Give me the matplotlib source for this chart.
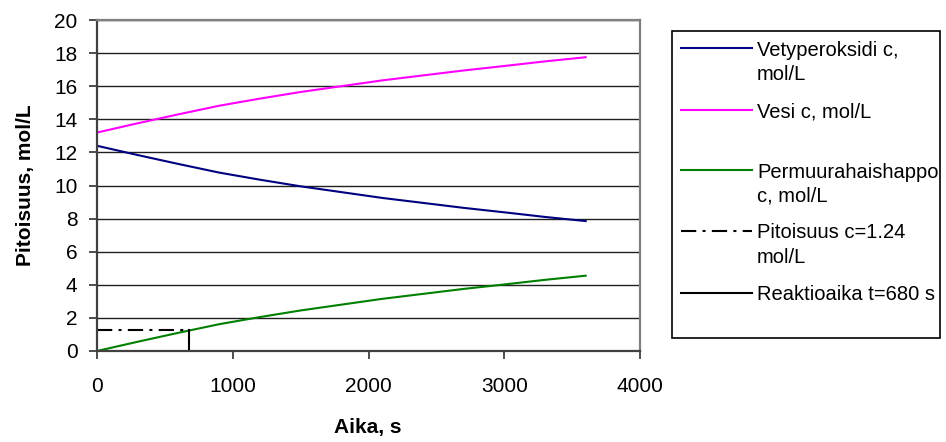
import matplotlib
matplotlib.use('Agg')
from matplotlib import pyplot as plt
from matplotlib.lines import Line2D
from matplotlib.patches import Rectangle

plt.rcParams['font.family'] = ['Liberation Sans', 'DejaVu Sans']
plt.rcParams['lines.scale_dashes'] = False

# values
time_s = [0, 300, 600, 900, 1200, 1500, 1800, 2100, 2400, 2700, 3000, 3300, 3600]
vetyperoksidi = [12.4, 11.84, 11.30, 10.78, 10.35, 9.95, 9.60, 9.25, 8.95, 8.65, 8.38, 8.10, 7.85]
vesi = [13.2, 13.76, 14.30, 14.82, 15.25, 15.65, 16.0, 16.35, 16.65, 16.95, 17.22, 17.5, 17.75]
permuurahaishappo = [0, 0.56, 1.10, 1.62, 2.05, 2.45, 2.80, 3.15, 3.45, 3.75, 4.02, 4.30, 4.55]
pitoisuus_c = 1.24
reaktioaika_t = 680

DASHDOT = (11, 4.5, 2.2, 4.5)
W, H = 946, 442

fig = plt.figure(figsize=(9.46, 4.42), dpi=100)
ax = fig.add_axes([97 / W, 1 - 351 / H, (640 - 97) / W, (351 - 20) / H])

ax.plot(time_s, vetyperoksidi, color='#000080', lw=1.5)
ax.plot(time_s, vesi, color='#FF00FF', lw=1.5)
ax.plot(time_s, permuurahaishappo, color='#008000', lw=1.5)
ax.plot([0, reaktioaika_t], [pitoisuus_c, pitoisuus_c], color='black', lw=1.5,
        dashes=DASHDOT)
ax.plot([reaktioaika_t, reaktioaika_t], [0, pitoisuus_c], color='black', lw=1.5)

ax.set_xlim(0, 4000)
ax.set_ylim(0, 20)
ax.set_xticks(range(0, 4001, 1000))
ax.set_yticks(range(0, 21, 2))
ax.grid(axis='y', color='#202020', lw=1)
ax.set_axisbelow(True)
ax.tick_params(labelsize=15, direction='out', length=6, width=1.2, colors='#303030',
               labelcolor='black')
ax.tick_params(axis='x', pad=13)
ax.tick_params(axis='y', pad=8)

for side in ['top', 'right']:
    ax.spines[side].set_color('#808080')
    ax.spines[side].set_linewidth(1.6)
for side in ['left', 'bottom']:
    ax.spines[side].set_color('#404040')
    ax.spines[side].set_linewidth(1.6)

fig.text(368 / W, 1 - 427 / H, 'Aika, s', fontsize=15, fontweight='bold',
         ha='center', va='center')
fig.text(26 / W, 1 - 185 / H, 'Pitoisuus, mol/L', fontsize=15, fontweight='bold',
         ha='center', va='center', rotation=90)

# legend box drawn like the Excel one
fig.patches.append(Rectangle((672 / W, 1 - 338 / H), (940 - 672) / W, (338 - 31) / H,
                             transform=fig.transFigure, fill=False, edgecolor='black',
                             lw=1.2))
entries = [
    ('#000080', False, ['Vetyperoksidi c,', 'mol/L'], 48),
    ('#FF00FF', False, ['Vesi c, mol/L'], 110),
    ('#008000', False, ['Permuurahaishappo', 'c, mol/L'], 170),
    ('black', True, ['Pitoisuus c=1.24', 'mol/L'], 231),
    ('black', False, ['Reaktioaika t=680 s'], 293),
]
for color, dashed, lines, ypx in entries:
    y = 1 - ypx / H
    ln = Line2D([681 / W, 752 / W], [y, y], transform=fig.transFigure, color=color, lw=1.5)
    if dashed:
        ln.set_dashes(DASHDOT)
    fig.lines.append(ln)
    for k, txt in enumerate(lines):
        base = ypx + 7.5 + k * 24.5
        fig.text(757 / W, 1 - base / H, txt, fontsize=14.5, va='baseline', ha='left')

fig.savefig('out.png', dpi=100)
